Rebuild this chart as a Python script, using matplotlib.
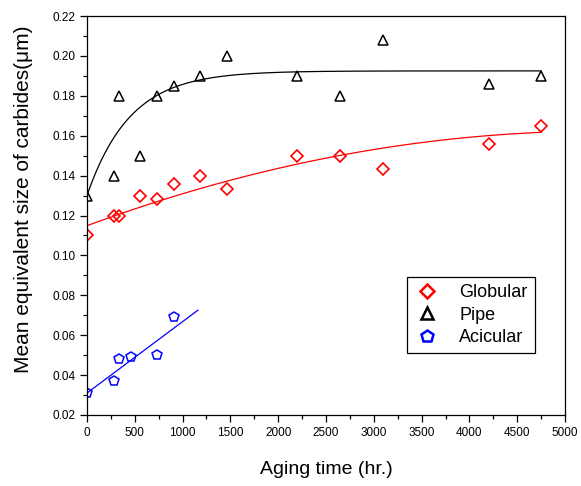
import numpy as np
import matplotlib
matplotlib.use('Agg')
import matplotlib.pyplot as plt
from matplotlib.ticker import MultipleLocator

plt.rcParams['font.family'] = ['Liberation Sans', 'DejaVu Sans']

# data
t_glob = [0, 280, 330, 550, 730, 910, 1180, 1460, 2200, 2650, 3100, 4200, 4750]
d_glob = [0.110, 0.120, 0.120, 0.130, 0.1285, 0.136, 0.140, 0.1335, 0.150, 0.150, 0.1435, 0.156, 0.165]

t_pipe = [0, 280, 330, 550, 730, 910, 1180, 1460, 2200, 2650, 3100, 4200, 4750]
d_pipe = [0.130, 0.140, 0.180, 0.150, 0.180, 0.185, 0.190, 0.200, 0.190, 0.180, 0.208, 0.186, 0.190]

t_acic = [0, 280, 330, 460, 730, 910]
d_acic = [0.031, 0.037, 0.048, 0.049, 0.050, 0.069]

# fitted curves (parameters)
x_fit = np.linspace(0, 4750, 300)
glob_fit = 0.1149 + 1.766e-5 * x_fit - 1.644e-9 * x_fit ** 2
pipe_fit = 0.1925 - 0.0625 * np.exp(-x_fit / 450)
x_acic = np.linspace(0, 1160, 50)
acic_fit = 0.031 + 3.58e-5 * x_acic

fig = plt.figure(figsize=(5.81, 4.86), dpi=100)
ax = fig.add_axes([0.1497, 0.1461, 0.8228, 0.8209])

ax.plot(x_fit, glob_fit, color='red', lw=0.9)
ax.plot(x_fit, pipe_fit, color='black', lw=0.9)
ax.plot(x_acic, acic_fit, color='blue', lw=0.9)

ax.plot(t_glob, d_glob, ls='none', marker='D', ms=6.5, mfc='none', mec='red', mew=1.2, label='Globular')
ax.plot(t_pipe, d_pipe, ls='none', marker='^', ms=7, mfc='none', mec='black', mew=1.1, label='Pipe')
ax.plot(t_acic, d_acic, ls='none', marker='p', ms=7.5, mfc='none', mec='blue', mew=1.1, label='Acicular')

ax.set_xlim(0, 5000)
ax.set_ylim(0.02, 0.22)
ax.xaxis.set_major_locator(MultipleLocator(500))
ax.xaxis.set_minor_locator(MultipleLocator(250))
ax.yaxis.set_major_locator(MultipleLocator(0.02))
ax.yaxis.set_minor_locator(MultipleLocator(0.01))
ax.yaxis.set_major_formatter(plt.FuncFormatter(lambda v, p: '%.2f' % v))
ax.tick_params(which='both', direction='out', top=False, right=False, labelsize=8.5)
ax.tick_params(which='major', length=5, width=0.9)
ax.tick_params(which='minor', length=3, width=0.9)
for s in ax.spines.values():
    s.set_linewidth(0.9)

ax.set_xlabel('Aging time (hr.)', fontsize=14, labelpad=16)
ax.set_ylabel('Mean equivalent size of carbides(\u03bcm)', fontsize=15)
ax.yaxis.set_label_coords(-0.113, 0.541)

leg = ax.legend(loc='upper left', bbox_to_anchor=(0.669, 0.346), fontsize=13,
                fancybox=False, edgecolor='black', framealpha=1, markerscale=1.15,
                handlelength=1.4, handletextpad=1.1, borderpad=0.4, labelspacing=0.3,
                borderaxespad=0)
leg.get_frame().set_linewidth(0.9)
for h in leg.legend_handles:
    h.set_markeredgewidth(1.8)

fig.savefig('out.png', dpi=100)
